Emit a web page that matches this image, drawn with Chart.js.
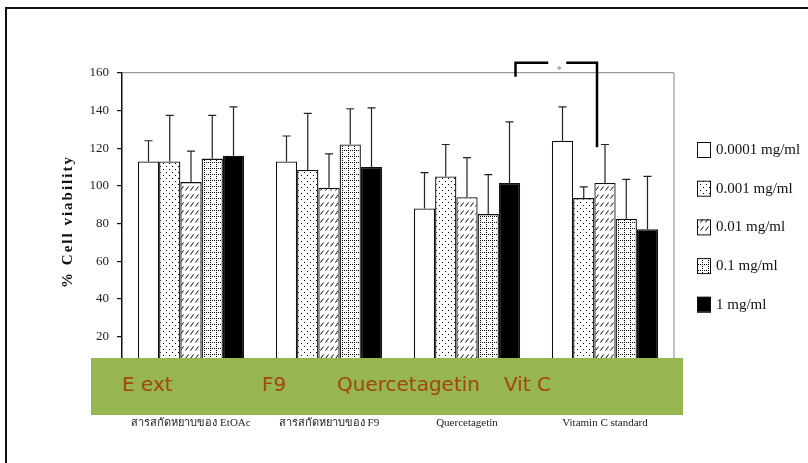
<!DOCTYPE html>
<html>
<head>
<meta charset="utf-8">
<script src="https://cdn.jsdelivr.net/npm/chart.js@4"></script>
<style>
  html, body { margin: 0; padding: 0; background: #fff; }
  #wrap { position: relative; width: 808px; height: 463px; overflow: hidden; }
  #frame { position: absolute; left: 5px; top: 7px; width: 900px; height: 600px;
           border-left: 2px solid #111; border-top: 2px solid #111; }
  canvas { position: absolute; left: 0; top: 0; }
  #overlay { position: absolute; left: 91px; top: 358px; width: 592px; height: 57px;
             background: #97b550; }
  #overlay span { position: absolute; top: 14px; font: 20px "DejaVu Sans", sans-serif; color: #a04a0c; }
</style>
</head>
<body>
<div id="wrap">
  <div id="frame"></div>
  <canvas id="chart" width="808" height="463"></canvas>
  <div id="overlay">
    <span style="left:31px">E ext</span>
    <span style="left:171px">F9</span>
    <span style="left:246px">Quercetagetin</span>
    <span style="left:413px">Vit C</span>
  </div>
</div>
<script>
// categories and series
const categories = ['สารสกัดหยาบของ EtOAc', 'สารสกัดหยาบของ F9', 'Quercetagetin', 'Vitamin C standard'];
const concLabels = ['0.0001 mg/ml', '0.001 mg/ml', '0.01 mg/ml', '0.1 mg/ml', '1 mg/ml'];

const v00001 = [113, 113, 88, 124];
const v0001 = [113, 108.5, 105, 93.5];
const v001 = [102, 99, 94, 101.5];
const v01 = [114.5, 122, 85, 82.5];
const v1 = [116, 110, 101.5, 77];

// upper error (SD)
const e00001 = [11, 13.5, 19, 18];
const e0001 = [24.5, 30, 17, 6];
const e001 = [16.5, 18, 21, 20.5];
const e01 = [23, 19, 21, 21];
const e1 = [26, 31.5, 32.5, 28];

const yTicks = [0, 20, 40, 60, 80, 100, 120, 140, 160];
const yTitle = '% Cell viability';

// fill patterns
function makePattern(w, h, draw) {
    const c = document.createElement('canvas');
    c.width = w; c.height = h;
    const g = c.getContext('2d');
    g.fillStyle = '#fff';
    g.fillRect(0, 0, w, h);
    g.fillStyle = '#000';
    g.strokeStyle = '#000';
    draw(g);
    return g.createPattern(c, 'repeat');
}
const ctx = document.getElementById('chart').getContext('2d');
const dots = makePattern(6, 6, g => { g.fillRect(1, 1, 1, 1); g.fillRect(4, 4, 1, 1); });
const hatch = makePattern(5, 8, g => {
    g.lineWidth = 1;
    g.beginPath(); g.moveTo(0.5, 6.5); g.lineTo(3.5, 2.5); g.stroke();
});
const dotGrid = makePattern(6, 6, g => {
    for (let i = 0; i < 6; i += 2) { g.fillRect(i, 0, 1, 1); g.fillRect(0, i, 1, 1); }
});

const fills = ['#fff', dots, hatch, dotGrid, '#000'];
const seriesVals = [v00001, v0001, v001, v01, v1];
const seriesErr = [e00001, e0001, e001, e01, e1];

const datasets = concLabels.map((lab, i) => ({
    label: lab,
    data: seriesVals[i],
    errors: seriesErr[i],
    backgroundColor: fills[i],
    borderColor: '#111',
    borderWidth: 1.3,
    borderSkipped: 'bottom',
    categoryPercentage: 0.77,
    barPercentage: 1.0
}));

const serif = '"Liberation Serif", "DejaVu Serif", serif';

// error bars, frame, bracket, axis title and legend
const extras = {
    id: 'extras',
    afterDatasetsDraw(chart) {
        const c = chart.ctx;
        const y = chart.scales.y;
        const area = chart.chartArea;
        c.save();
        // error bars
        c.strokeStyle = '#222';
        c.lineWidth = 1.2;
        chart.data.datasets.forEach((ds, di) => {
            const meta = chart.getDatasetMeta(di);
            meta.data.forEach((bar, i) => {
                const top = y.getPixelForValue(ds.data[i] + ds.errors[i]);
                c.beginPath();
                c.moveTo(bar.x, bar.y);
                c.lineTo(bar.x, top);
                c.moveTo(bar.x - 4, top);
                c.lineTo(bar.x + 4, top);
                c.stroke();
            });
        });
        // right border of plot
        c.strokeStyle = '#999';
        c.lineWidth = 1.2;
        c.beginPath();
        c.moveTo(area.right, area.top);
        c.lineTo(area.right, area.bottom);
        c.stroke();

        // significance bracket
        const xl = chart.getDatasetMeta(4).data[2].x + 6;
        const xr = chart.getDatasetMeta(2).data[3].x - 8;
        const yt = y.getPixelForValue(165.5);
        const mid = (xl + xr) / 2;
        c.strokeStyle = '#000';
        c.lineWidth = 2.5;
        c.beginPath();
        c.moveTo(xl, y.getPixelForValue(158));
        c.lineTo(xl, yt);
        c.lineTo(mid - 8, yt);
        c.moveTo(mid + 10, yt);
        c.lineTo(xr, yt);
        c.lineTo(xr, y.getPixelForValue(120.5));
        c.stroke();
        c.fillStyle = '#777';
        c.font = '10px ' + serif;
        c.textAlign = 'center';
        c.textBaseline = 'middle';
        c.fillText('*', mid + 3, yt + 8);

        // y axis title (letter spaced)
        c.save();
        c.translate(68, (area.top + area.bottom) / 2 - 2);
        c.rotate(-Math.PI / 2);
        c.letterSpacing = '2px';
        c.fillStyle = '#111';
        c.font = 'bold 15px ' + serif;
        c.fillText(yTitle, 0, 0);
        c.restore();

        // legend
        c.textAlign = 'left';
        c.font = '15px ' + serif;
        chart.data.datasets.forEach((ds, i) => {
            const by = 142 + i * 38.7;
            c.fillStyle = ds.backgroundColor;
            c.fillRect(697, by, 13, 15);
            c.strokeStyle = '#111';
            c.lineWidth = 1;
            c.strokeRect(697.5, by + 0.5, 13, 15);
            c.fillStyle = '#111';
            c.fillText(ds.label, 716, by + 8);
        });
        c.restore();
    }
};

new Chart(ctx, {
    type: 'bar',
    data: { labels: categories, datasets: datasets },
    options: {
        responsive: false,
        animation: false,
        layout: { padding: { left: 55, right: 134, top: 73, bottom: 0 } },
        plugins: { legend: { display: false }, tooltip: { enabled: false } },
        scales: {
            x: {
                grid: { display: false },
                border: { display: false },
                ticks: { color: '#222', font: { family: serif, size: 11 }, padding: 35, maxRotation: 0 },
                afterFit: s => { s.height = 89; }
            },
            y: {
                min: 0,
                max: 160,
                afterFit: s => { s.width = 67; },
                afterBuildTicks: s => { s.ticks = yTicks.map(v => ({ value: v })); },
                grid: {
                    color: c => (c.tick && c.tick.value === 160 ? '#999' : 'rgba(0,0,0,0)'),
                    lineWidth: 1.2,
                    tickColor: '#111',
                    tickLength: 5
                },
                border: { color: '#111', width: 1.5 },
                ticks: { color: '#222', font: { family: serif, size: 13 }, padding: 8 }
            }
        }
    },
    plugins: [extras]
});
</script>
</body>
</html>
